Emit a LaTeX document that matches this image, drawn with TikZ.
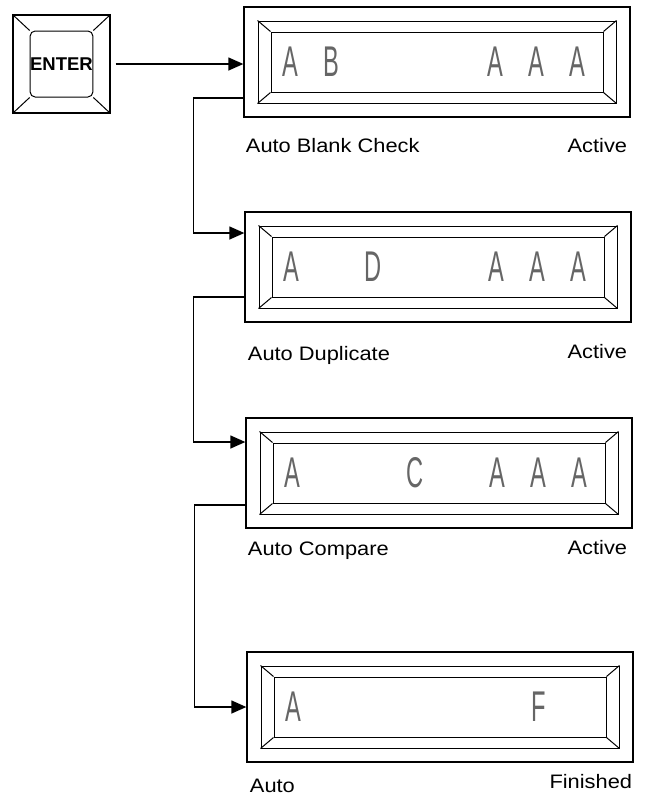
\documentclass[tikz,border=0pt]{standalone}
\usepackage{fontspec}
\setmainfont{Liberation Sans}
\newfontfamily\labelfont[FakeStretch=1.12]{Liberation Sans}
\newfontfamily\lcdfont[FakeStretch=0.55]{Liberation Sans}
\usetikzlibrary{arrows.meta,calc}

\begin{document}
\begin{tikzpicture}[
  x=1pt,
  y=1pt,
  >={Triangle[length=15pt,width=13pt]},
  line width=1.2pt,
  every node/.style={font=\fontsize{19.5}{22}\selectfont\labelfont},
  keycap/.style={draw, line width=1.3pt, minimum width=97pt, minimum height=98pt, inner sep=0pt},
  cushion/.style={draw, line width=1pt, rounded corners=5pt, minimum width=62pt, minimum height=66pt,
    inner sep=0pt, font=\fontsize{18.5}{20}\selectfont\bfseries},
  lcdframe/.style={draw, line width=1.3pt, minimum width=386pt, minimum height=110pt},
  lcdbevel/.style={draw, line width=1pt, minimum width=358pt, minimum height=82pt},
  lcdscreen/.style={draw, line width=1pt, minimum width=332pt, minimum height=60pt},
  lcdchar/.style={inner sep=0pt, text=black!60, font=\fontsize{43}{43}\selectfont\lcdfont},
  flow/.style={->, line width=1.3pt},
]
\useasboundingbox (0,0) rectangle (647,-804);

\node[keycap] (enter) at (61.5,-64) {};
\node[cushion] (entertop) at (enter) {ENTER};
\foreach \a in {north west,north east,south west,south east}
  \draw[line width=1pt] (enter.\a) -- (entertop.\a);

\node[lcdframe] (disp1) at (437,-62) {};
\node[lcdframe] (disp2) at (438,-267) {};
\node[lcdframe] (disp3) at (439,-473) {};
\node[lcdframe] (disp4) at (440,-707) {};
\foreach \i in {1,...,4} {
  \node[lcdbevel] (bev\i) at (disp\i) {};
  \node[lcdscreen] (scr\i) at (disp\i) {};
  \foreach \a in {north west,north east,south west,south east}
    \draw[line width=1pt] (bev\i.\a) -- (scr\i.\a);
}

\foreach \k/\c in {0/A,1/B,5/A,6/A,7/A}
  \node[lcdchar] (ch1-\k) at ([xshift=19.5+41*\k]scr1.west) {\c};
\foreach \k/\c in {0/A,2/D,5/A,6/A,7/A}
  \node[lcdchar] (ch2-\k) at ([xshift=19.5+41*\k]scr2.west) {\c};
\foreach \k/\c in {0/A,3/C,5/A,6/A,7/A}
  \node[lcdchar] (ch3-\k) at ([xshift=19.5+41*\k]scr3.west) {\c};
\foreach \k/\c in {0/A,6/F}
  \node[lcdchar] (ch4-\k) at ([xshift=19.5+41*\k]scr4.west) {\c};

\draw[flow] ([xshift=5]enter.east) -- (enter.east -| disp1.west);
\draw[flow] ([yshift=-36]disp1.west) -- ++(-50,0) |- ([yshift=34]disp2.west);
\draw[flow] ([yshift=-30]disp2.west) -- ++(-51,0) |- ([yshift=31]disp3.west);
\draw[flow] ([yshift=-32]disp3.west) -- ++(-51,0) |- (disp4.west);

\node[anchor=west] (lab1) at (242,-146) {Auto Blank Check};
\node[anchor=east] (act1) at (631,-146) {Active};
\node[anchor=west] (lab2) at (244,-355) {Auto Duplicate};
\node[anchor=east] (act2) at (631,-352) {Active};
\node[anchor=west] (lab3) at (244,-551) {Auto Compare};
\node[anchor=east] (act3) at (631,-548) {Active};
\node[anchor=west] (lab4) at (246,-786) {Auto};
\node[anchor=east] (act4) at (636,-782) {Finished};
\end{tikzpicture}
\end{document}
